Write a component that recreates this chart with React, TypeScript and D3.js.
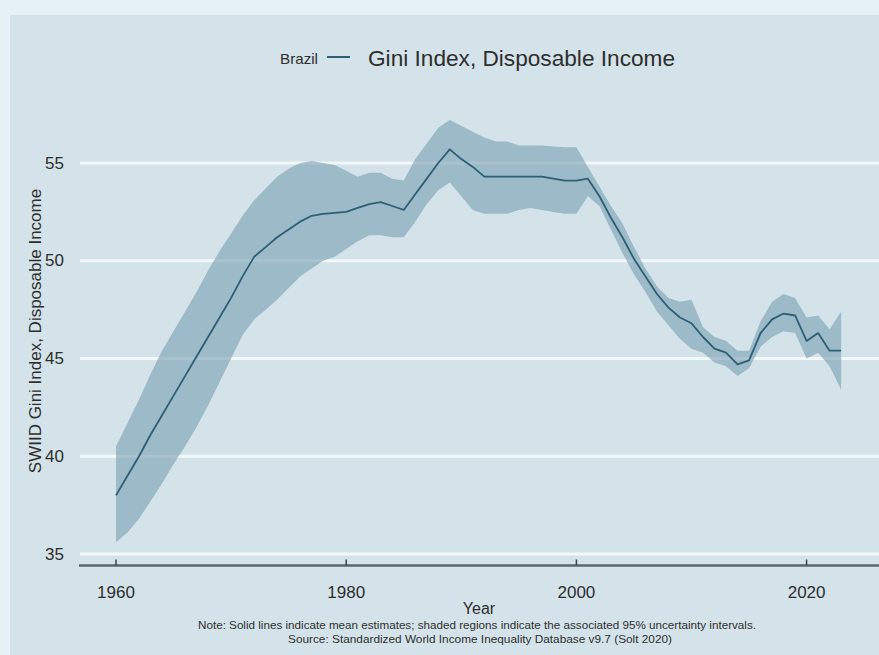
import React from "react";
import * as d3 from "d3";

const years: number[] = d3.range(1960, 2024);
const meanValues: number[] = [
  38.0, 39.0, 40.0, 41.1, 42.1, 43.1, 44.1, 45.1, 46.1, 47.1, 48.1, 49.2, 50.2,
  50.7, 51.2, 51.6, 52.0, 52.3, 52.4, 52.45, 52.5, 52.7, 52.9, 53.0, 52.8, 52.6,
  53.4, 54.2, 55.0, 55.7, 55.2, 54.8, 54.3, 54.3, 54.3, 54.3, 54.3, 54.3, 54.2,
  54.1, 54.1, 54.2, 53.3, 52.2, 51.2, 50.1, 49.2, 48.3, 47.6, 47.1, 46.8, 46.1,
  45.5, 45.3, 44.7, 44.9, 46.3, 47.0, 47.3, 47.2, 45.9, 46.3, 45.4, 45.4,
];
const upperValues: number[] = [
  40.5, 41.7, 42.9, 44.2, 45.4, 46.4, 47.4, 48.4, 49.5, 50.5, 51.4, 52.3, 53.1,
  53.7, 54.3, 54.7, 55.0, 55.1, 55.0, 54.9, 54.6, 54.3, 54.5, 54.5, 54.2, 54.1,
  55.2, 56.0, 56.8, 57.2, 56.9, 56.6, 56.3, 56.1, 56.1, 55.9, 55.9, 55.9, 55.85,
  55.8, 55.8, 54.8, 53.8, 52.8, 51.9, 50.7, 49.6, 48.7, 48.1, 47.9, 48.0, 46.6,
  46.1, 45.9, 45.4, 45.4, 46.9, 47.9, 48.3, 48.1, 47.1, 47.2, 46.5, 47.4,
];
const lowerValues: number[] = [
  35.6, 36.1, 36.8, 37.7, 38.6, 39.6, 40.5, 41.5, 42.6, 43.8, 45.0, 46.2, 47.0,
  47.5, 48.0, 48.6, 49.2, 49.6, 50.0, 50.2, 50.6, 51.0, 51.3, 51.3, 51.2, 51.2,
  52.0, 52.9, 53.6, 54.0, 53.3, 52.6, 52.4, 52.4, 52.4, 52.6, 52.7, 52.6, 52.5,
  52.4, 52.4, 53.3, 52.8, 51.6, 50.4, 49.3, 48.4, 47.4, 46.7, 46.0, 45.5, 45.3,
  44.8, 44.6, 44.1, 44.5, 45.6, 46.1, 46.4, 46.3, 45.0, 45.3, 44.6, 43.4,
];
const yTicks: number[] = [35, 40, 45, 50, 55];
const xTicks: number[] = [1960, 1980, 2000, 2020];

const countryLabel = "Brazil";
const titleText = "Gini Index, Disposable Income";
const yTitle = "SWIID Gini Index, Disposable Income";
const xTitle = "Year";
const noteText =
  "Note: Solid lines indicate mean estimates; shaded regions indicate the associated 95% uncertainty intervals.";
const sourceText =
  "Source: Standardized World Income Inequality Database v9.7 (Solt 2020)";

const W = 879;
const H = 655;
const FONT = "'Liberation Sans', Arial, Helvetica, sans-serif";
const TEXT = "#2e2e2e";
const LINE = "#2d6074";

export default function App() {
  const x = d3.scaleLinear().domain([1960, 2020]).range([116, 806.6]);
  const y = d3.scaleLinear().domain([35, 55]).range([554, 163]);
  const plotLeft = 80;
  const plotRight = 879;
  const axisY = 565.5;

  const rows = years.map((yr, i) => ({
    yr,
    m: meanValues[i],
    lo: lowerValues[i],
    hi: upperValues[i],
  }));

  const area = d3
    .area<any>()
    .x((d) => x(d.yr))
    .y0((d) => y(d.lo))
    .y1((d) => y(d.hi));
  const line = d3
    .line<any>()
    .x((d) => x(d.yr))
    .y((d) => y(d.m));

  return (
    <svg
      width={W}
      height={H}
      style={{ position: "absolute", left: 0, top: 0, display: "block" }}
      fontFamily={FONT}
    >
      <rect x={0} y={0} width={W} height={H} fill="#e6f1f7" />
      <rect x={10} y={15} width={W - 10} height={H - 15} fill="#d4e3e9" />

      {/* legend / title */}
      <text
        x={280}
        y={58}
        fontSize={15}
        fill={TEXT}
        dominantBaseline="central"
        textLength={38}
        lengthAdjust="spacingAndGlyphs"
      >
        {countryLabel}
      </text>
      <line x1={327} x2={350} y1={57} y2={57} stroke={LINE} strokeWidth={2} />
      <text
        x={368}
        y={58}
        fontSize={22.5}
        fill={TEXT}
        dominantBaseline="central"
        textLength={307}
        lengthAdjust="spacingAndGlyphs"
      >
        {titleText}
      </text>

      {/* grid */}
      {yTicks.map((t) => (
        <line
          key={"g" + t}
          x1={plotLeft}
          x2={plotRight}
          y1={y(t)}
          y2={y(t)}
          stroke="#f3f8fa"
          strokeWidth={3}
        />
      ))}

      {/* band and line */}
      <path d={area(rows) || ""} fill="#7aa2b3" fillOpacity={0.62} />
      <path
        d={line(rows) || ""}
        fill="none"
        stroke={LINE}
        strokeWidth={1.8}
        strokeLinejoin="round"
      />

      {/* y tick labels */}
      {yTicks.map((t) => (
        <text
          key={"yl" + t}
          x={64}
          y={y(t)}
          fontSize={17}
          fill={TEXT}
          textAnchor="end"
          dominantBaseline="central"
        >
          {t}
        </text>
      ))}

      {/* x axis */}
      <line
        x1={plotLeft - 1}
        x2={plotRight}
        y1={axisY}
        y2={axisY}
        stroke="#5d676b"
        strokeWidth={2.5}
      />
      {xTicks.map((t) => (
        <g key={"xt" + t}>
          <line
            x1={x(t)}
            x2={x(t)}
            y1={axisY - 6}
            y2={axisY}
            stroke="#3e4548"
            strokeWidth={1.5}
          />
          <text
            x={x(t)}
            y={592}
            fontSize={17}
            fill={TEXT}
            textAnchor="middle"
            dominantBaseline="central"
          >
            {t}
          </text>
        </g>
      ))}

      {/* axis titles */}
      <text
        x={479}
        y={608}
        fontSize={16}
        fill={TEXT}
        textAnchor="middle"
        dominantBaseline="central"
      >
        {xTitle}
      </text>
      <text
        transform={`translate(35,331) rotate(-90)`}
        fontSize={17}
        fill={TEXT}
        textAnchor="middle"
        dominantBaseline="central"
      >
        {yTitle}
      </text>

      {/* note and source */}
      <text
        x={477}
        y={625}
        fontSize={10.5}
        fill={TEXT}
        textAnchor="middle"
        dominantBaseline="central"
        textLength={558}
        lengthAdjust="spacingAndGlyphs"
      >
        {noteText}
      </text>
      <text
        x={480}
        y={638.5}
        fontSize={10.5}
        fill={TEXT}
        textAnchor="middle"
        dominantBaseline="central"
        textLength={384}
        lengthAdjust="spacingAndGlyphs"
      >
        {sourceText}
      </text>
    </svg>
  );
}
